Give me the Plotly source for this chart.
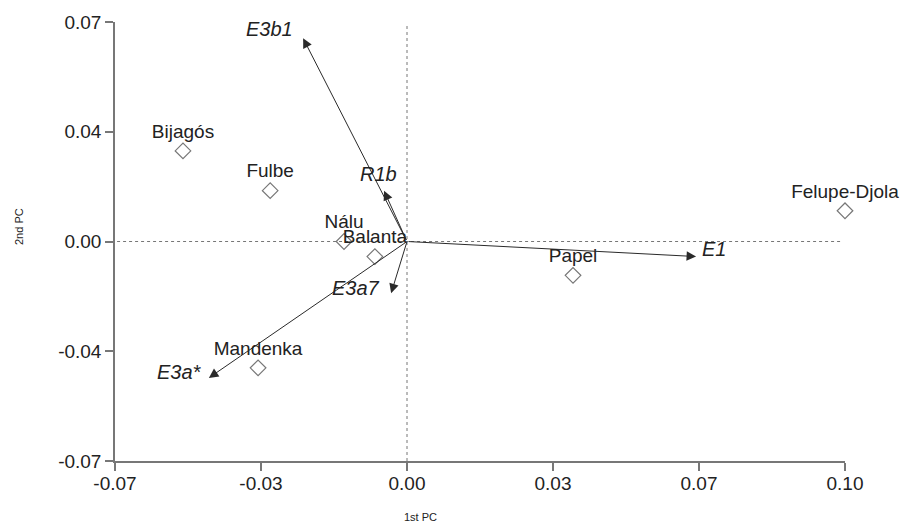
import plotly.graph_objects as go

# Population scores on the first two principal components
populations = ["Bijagós", "Fulbe", "Nálu", "Balanta", "Mandenka", "Papel", "Felupe-Djola"]
pc1 = [-0.0537, -0.0328, -0.0151, -0.0077, -0.0357, 0.0398, 0.1050]
pc2 = [0.0289, 0.0162, 0.0000, -0.0048, -0.0403, -0.0108, 0.0098]

# Haplogroup loadings (arrow tips)
haplogroups = ["E3b1", "R1b", "E1", "E3a7", "E3a*"]
load1 = [-0.0249, -0.0055, 0.0693, -0.0038, -0.0475]
load2 = [0.0648, 0.0162, -0.0048, -0.0165, -0.0435]

# Axis ticks
tick_vals_x = [-0.07, -0.035, 0.0, 0.035, 0.07, 0.105]
tick_text_x = ["-0.07", "-0.03", "0.00", "0.03", "0.07", "0.10"]
tick_vals_y = [-0.07, -0.035, 0.0, 0.035, 0.07]
tick_text_y = ["-0.07", "-0.04", "0.00", "0.04", "0.07"]

FONT = "Arial, Liberation Sans, sans-serif"

# label placement for each arrow: (xanchor, xshift, yshift) in pixels
label_place = {
    "E3b1": ("right", -8, 9),
    "R1b": ("center", -6, 17),
    "E1": ("left", 4, 8),
    "E3a7": ("right", -9, 5),
    "E3a*": ("right", -5, 6),
}

fig = go.Figure()

# dotted reference lines through the origin
fig.add_shape(type="line", x0=-0.0695, x1=0.1045, y0=0, y1=0,
              line=dict(color="#777", width=1, dash="dot"), layer="below")
fig.add_shape(type="line", x0=0, x1=0, y0=-0.07, y1=0.069,
              line=dict(color="#777", width=1, dash="dot"), layer="below")

# loading arrows
for name, lx, ly in zip(haplogroups, load1, load2):
    fig.add_annotation(x=lx, y=ly, ax=0, ay=0, xref="x", yref="y",
                       axref="x", ayref="y", text="", showarrow=True,
                       arrowhead=2, arrowsize=1.9, arrowwidth=1,
                       arrowcolor="#2a2a2a", standoff=0)
    xa, xs, ys = label_place[name]
    fig.add_annotation(x=lx, y=ly, xref="x", yref="y", text=f"<i>{name}</i>",
                       showarrow=False, xanchor=xa, yanchor="middle",
                       xshift=xs, yshift=ys,
                       font=dict(family=FONT, size=20, color="#222"))

# population scores
fig.add_trace(go.Scatter(
    x=pc1, y=pc2, mode="markers+text", text=populations,
    textposition="top center", cliponaxis=False,
    textfont=dict(family=FONT, size=19, color="#222"),
    marker=dict(symbol="diamond-open", size=12, color="#777",
                line=dict(width=1.2, color="#777")),
    showlegend=False, hoverinfo="text",
))

axis_common = dict(
    showgrid=False, zeroline=False, showline=True, linecolor="#777",
    linewidth=1.5, ticks="outside", ticklen=8, tickcolor="#777",
    tickwidth=1.5, tickfont=dict(family=FONT, size=19, color="#222"),
)

fig.update_layout(
    width=905, height=524,
    margin=dict(l=115, r=60, t=20, b=63),
    paper_bgcolor="white", plot_bgcolor="white",
    xaxis=dict(range=[-0.07, 0.105], tickvals=tick_vals_x, ticktext=tick_text_x,
               ticklabelstandoff=-4, **axis_common),
    yaxis=dict(range=[-0.07, 0.07], tickvals=tick_vals_y, ticktext=tick_text_y,
               **axis_common),
)

# axis titles (positions as fractions of the plotting area)
fig.add_annotation(x=0.418, y=-0.127, xref="paper", yref="paper", text="1st PC",
                   showarrow=False, xanchor="center", yanchor="middle",
                   font=dict(family=FONT, size=11, color="#222"))
fig.add_annotation(x=-0.1315, y=0.533, xref="paper", yref="paper", text="2nd PC",
                   showarrow=False, textangle=-90, xanchor="center", yanchor="middle",
                   font=dict(family=FONT, size=11, color="#222"))

fig.write_html("out.html")
